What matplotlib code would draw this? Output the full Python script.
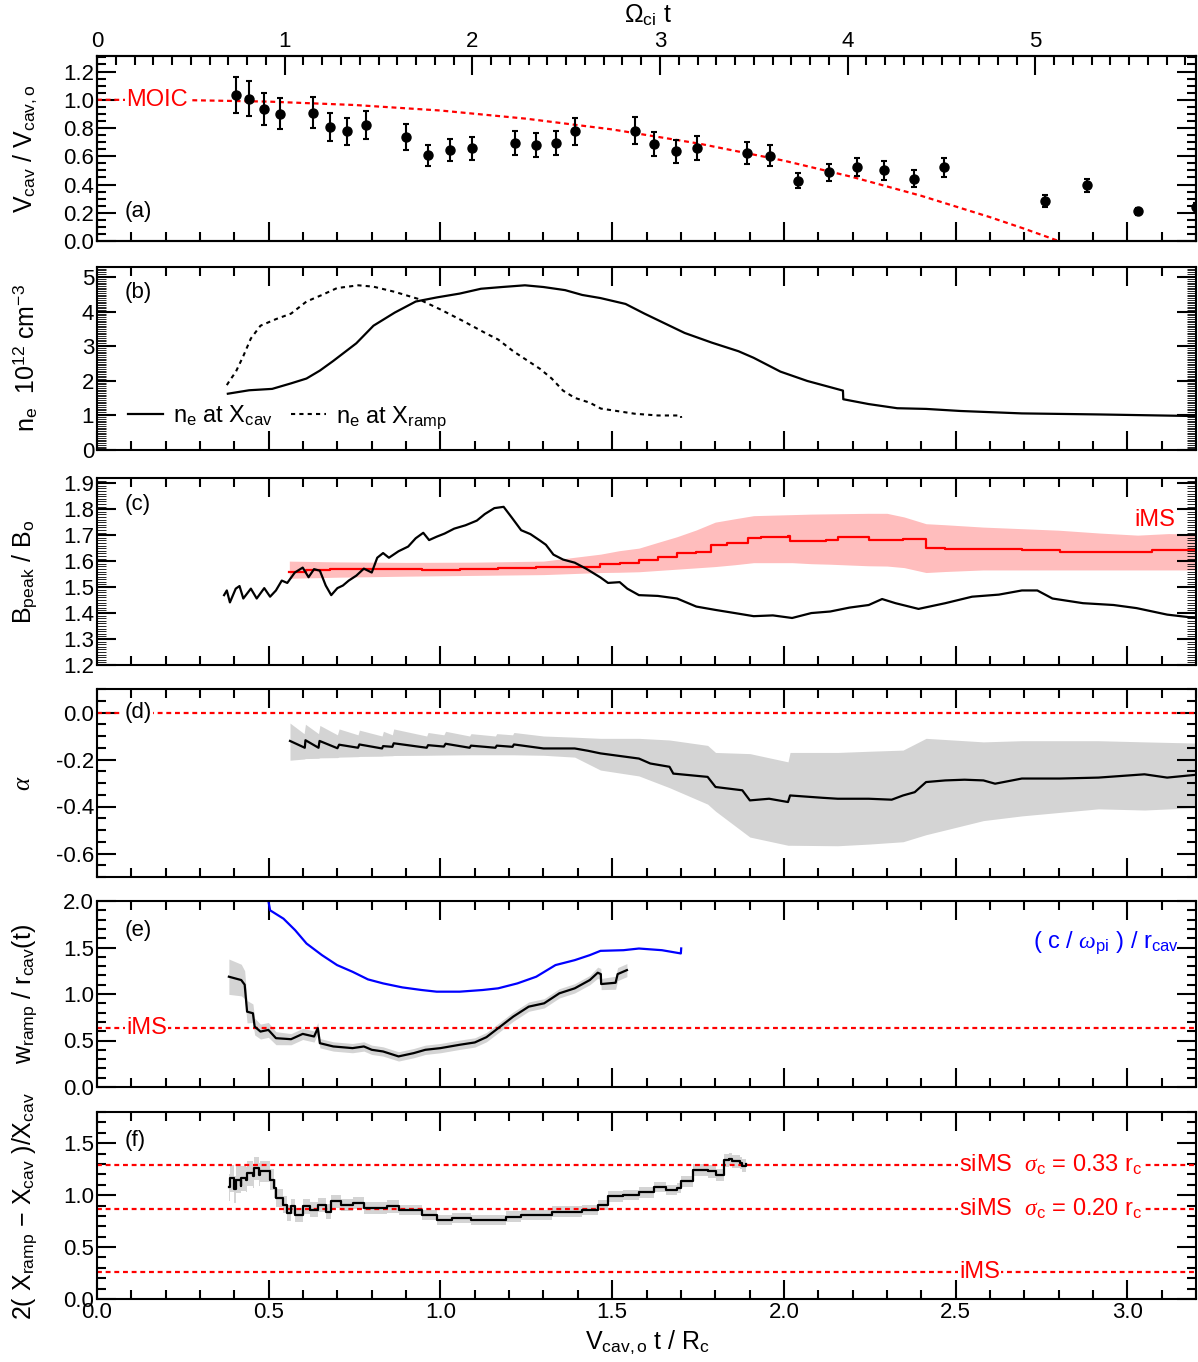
import numpy as np
import matplotlib.pyplot as plt
from matplotlib.ticker import MultipleLocator, FormatStrFormatter

plt.rcParams['font.family'] = ['Liberation Sans', 'DejaVu Sans']
plt.rcParams['mathtext.fontset'] = 'custom'
plt.rcParams['mathtext.rm'] = 'Liberation Sans'
plt.rcParams['mathtext.it'] = 'Liberation Serif:italic'
plt.rcParams['mathtext.bf'] = 'Liberation Sans:bold'
plt.rcParams['axes.unicode_minus'] = False

RED = '#ff0000'
BLUE = '#0000ff'
GREY = '#d4d4d4'
PINK = '#ffbdbd'
OMEGA_PER_X = 1.83  # Omega_ci t per unit of V_cav,o t / R_c

# (a) cavity velocity
t_a = [0.404, 0.444, 0.485, 0.532, 0.630, 0.677, 0.729, 0.782, 0.901, 0.963, 1.027, 1.091,
       1.218, 1.277, 1.337, 1.391, 1.566, 1.622, 1.686, 1.748, 1.893, 1.959, 2.041, 2.131,
       2.212, 2.291, 2.378, 2.465, 2.760, 2.884, 3.032, 3.200]
v_a = [1.033, 1.009, 0.935, 0.902, 0.907, 0.805, 0.777, 0.821, 0.735, 0.607, 0.642, 0.656,
       0.693, 0.681, 0.693, 0.777, 0.781, 0.688, 0.635, 0.660, 0.626, 0.605, 0.428, 0.488,
       0.523, 0.500, 0.442, 0.521, 0.286, 0.393, 0.212, 0.242]
err_a = [0.126, 0.123, 0.115, 0.109, 0.110, 0.098, 0.094, 0.099, 0.090, 0.074, 0.078, 0.083,
         0.085, 0.084, 0.085, 0.094, 0.097, 0.085, 0.081, 0.083, 0.078, 0.076, 0.056, 0.060,
         0.065, 0.065, 0.058, 0.065, 0.042, 0.049, 0.025, 0.025]
t_moic = [0.0, 0.25, 0.5, 0.75, 1.0, 1.25, 1.5, 1.75, 2.0, 2.2, 2.4, 2.6, 2.7, 2.8]
v_moic = [1.0, 0.998, 0.987, 0.963, 0.924, 0.866, 0.79, 0.691, 0.569, 0.453, 0.32, 0.169, 0.087, 0.0]

# (b) densities
t_cav = [0.381, 0.443, 0.510, 0.565, 0.610, 0.649, 0.688, 0.755, 0.805, 0.867, 0.928, 0.990,
         1.056, 1.118, 1.179, 1.246, 1.300, 1.363, 1.413, 1.466, 1.539, 1.594, 1.711, 1.790,
         1.868, 1.912, 1.990, 2.068, 2.172, 2.173, 2.247, 2.330, 2.414, 2.514, 2.693, 2.916, 3.215]
n_cav = [1.63, 1.73, 1.77, 1.93, 2.07, 2.30, 2.58, 3.09, 3.60, 3.98, 4.30, 4.42,
         4.53, 4.67, 4.72, 4.77, 4.72, 4.63, 4.49, 4.40, 4.23, 3.95, 3.39, 3.11,
         2.86, 2.67, 2.27, 2.00, 1.72, 1.47, 1.33, 1.21, 1.19, 1.13, 1.06, 1.03, 0.98]
t_ramp = [0.378, 0.387, 0.404, 0.426, 0.448, 0.476, 0.521, 0.565, 0.610, 0.655, 0.699, 0.761,
          0.805, 0.867, 0.934, 1.000, 1.067, 1.134, 1.168, 1.212, 1.290, 1.324, 1.357, 1.391,
          1.435, 1.467, 1.566, 1.633, 1.700, 1.701]
n_ramp = [1.88, 2.02, 2.26, 2.72, 3.23, 3.60, 3.79, 3.95, 4.30, 4.49, 4.69, 4.77,
          4.73, 4.58, 4.38, 4.07, 3.73, 3.37, 3.20, 2.86, 2.35, 2.07, 1.72, 1.51,
          1.37, 1.20, 1.05, 1.00, 1.00, 0.93]

# (c) peak field
t_bpk = [0.370, 0.378, 0.387, 0.404, 0.415, 0.426, 0.448, 0.465, 0.487, 0.504, 0.521, 0.538,
         0.554, 0.576, 0.599, 0.616, 0.632, 0.649, 0.666, 0.682, 0.700, 0.716, 0.733, 0.755,
         0.777, 0.800, 0.816, 0.833, 0.850, 0.878, 0.906, 0.928, 0.950, 0.967, 0.989, 1.012,
         1.040, 1.073, 1.106, 1.129, 1.157, 1.184, 1.207, 1.235, 1.262, 1.290, 1.307, 1.329,
         1.357, 1.391, 1.424, 1.466, 1.488, 1.522, 1.544, 1.578, 1.633, 1.689, 1.745, 1.801,
         1.857, 1.912, 1.968, 2.024, 2.080, 2.135, 2.191, 2.247, 2.286, 2.325, 2.392, 2.470,
         2.548, 2.626, 2.693, 2.738, 2.782, 2.871, 2.960, 3.027, 3.116, 3.200]
b_pk = [1.469, 1.487, 1.441, 1.494, 1.504, 1.456, 1.494, 1.456, 1.496, 1.463, 1.487, 1.525,
        1.516, 1.556, 1.575, 1.538, 1.569, 1.563, 1.506, 1.469, 1.496, 1.506, 1.525, 1.544,
        1.571, 1.556, 1.613, 1.631, 1.613, 1.638, 1.656, 1.688, 1.709, 1.681, 1.694, 1.706,
        1.725, 1.738, 1.756, 1.781, 1.804, 1.809, 1.769, 1.719, 1.704, 1.679, 1.663, 1.625,
        1.606, 1.594, 1.571, 1.537, 1.516, 1.519, 1.494, 1.469, 1.466, 1.456, 1.425, 1.412,
        1.400, 1.388, 1.391, 1.381, 1.400, 1.406, 1.421, 1.431, 1.454, 1.438, 1.416, 1.438,
        1.463, 1.471, 1.487, 1.487, 1.456, 1.438, 1.431, 1.419, 1.394, 1.381]
t_ims = [0.560, 0.610, 0.677, 0.722, 0.833, 0.945, 1.056, 1.168, 1.279, 1.391, 1.466, 1.522,
         1.578, 1.633, 1.689, 1.745, 1.789, 1.834, 1.895, 1.934, 2.012, 2.018, 2.124, 2.157,
         2.247, 2.347, 2.414, 2.470, 2.581, 2.693, 2.804, 2.949, 3.072, 3.200]
b_ims = [1.560, 1.565, 1.571, 1.568, 1.569, 1.566, 1.571, 1.574, 1.576, 1.579, 1.588, 1.594,
         1.604, 1.616, 1.631, 1.637, 1.662, 1.669, 1.688, 1.694, 1.696, 1.679, 1.681, 1.694,
         1.681, 1.684, 1.650, 1.646, 1.646, 1.641, 1.637, 1.634, 1.641, 1.634]
t_ims_band = [0.56, 0.70, 0.90, 1.10, 1.30, 1.467, 1.52, 1.578, 1.633, 1.689, 1.745, 1.80,
              1.857, 1.912, 1.968, 2.024, 2.08, 2.135, 2.19, 2.247, 2.30, 2.35, 2.414, 2.47,
              2.58, 2.69, 2.80, 2.92, 3.03, 3.12, 3.20]
b_ims_hi = [1.600, 1.597, 1.595, 1.596, 1.600, 1.627, 1.640, 1.650, 1.672, 1.694, 1.720, 1.750,
            1.763, 1.775, 1.777, 1.779, 1.781, 1.782, 1.783, 1.784, 1.784, 1.770, 1.744, 1.740,
            1.731, 1.725, 1.719, 1.708, 1.700, 1.706, 1.704]
b_ims_lo = [1.534, 1.538, 1.542, 1.545, 1.548, 1.556, 1.557, 1.559, 1.564, 1.569, 1.574, 1.579,
            1.586, 1.594, 1.594, 1.594, 1.590, 1.588, 1.585, 1.582, 1.581, 1.575, 1.556, 1.560,
            1.566, 1.566, 1.566, 1.566, 1.566, 1.566, 1.566]

# (d) alpha
t_alpha = [0.562, 0.605, 0.607, 0.645, 0.648, 0.700, 0.705, 0.760, 0.764, 0.830, 0.833, 0.860,
           0.864, 0.960, 0.964, 1.010, 1.015, 1.085, 1.089, 1.160, 1.164, 1.210, 1.214, 1.300,
           1.391, 1.430, 1.466, 1.578, 1.611, 1.667, 1.678, 1.778, 1.801, 1.879, 1.901, 1.957,
           2.012, 2.018, 2.113, 2.157, 2.247, 2.314, 2.347, 2.381, 2.414, 2.470, 2.526, 2.581,
           2.615, 2.693, 2.804, 2.916, 3.050, 3.116, 3.200]
alpha = [-0.121, -0.150, -0.118, -0.150, -0.121, -0.152, -0.137, -0.150, -0.136, -0.153, -0.143, -0.146,
         -0.131, -0.150, -0.139, -0.145, -0.133, -0.150, -0.141, -0.150, -0.141, -0.146, -0.136, -0.153,
         -0.153, -0.163, -0.174, -0.196, -0.217, -0.231, -0.260, -0.274, -0.317, -0.331, -0.374, -0.367,
         -0.381, -0.353, -0.363, -0.367, -0.367, -0.371, -0.353, -0.339, -0.296, -0.289, -0.286, -0.289,
         -0.303, -0.281, -0.281, -0.277, -0.263, -0.277, -0.265]
t_alpha_band = [0.562, 0.603, 0.607, 0.645, 0.649, 0.700, 0.705, 0.760, 0.764, 0.830, 0.834, 0.860,
                0.864, 0.960, 0.964, 1.010, 1.015, 1.085, 1.089, 1.160, 1.164, 1.210, 1.214, 1.300,
                1.391, 1.466, 1.578, 1.667, 1.778, 1.801, 1.901, 2.012, 2.018, 2.157, 2.247, 2.347,
                2.414, 2.470, 2.581, 2.693, 2.804, 2.916, 3.050, 3.200]
alpha_hi = [-0.045, -0.090, -0.050, -0.090, -0.055, -0.095, -0.070, -0.095, -0.075, -0.100, -0.080, -0.095,
            -0.070, -0.100, -0.085, -0.095, -0.080, -0.100, -0.090, -0.100, -0.090, -0.095, -0.085, -0.100,
            -0.105, -0.110, -0.110, -0.117, -0.140, -0.170, -0.175, -0.210, -0.170, -0.170, -0.165, -0.160,
            -0.110, -0.115, -0.125, -0.120, -0.120, -0.120, -0.125, -0.130]
alpha_lo = [-0.203, -0.198, -0.196, -0.195, -0.193, -0.192, -0.190, -0.188, -0.187, -0.186, -0.185, -0.184,
            -0.183, -0.182, -0.182, -0.181, -0.181, -0.180, -0.180, -0.180, -0.180, -0.180, -0.180, -0.182,
            -0.190, -0.245, -0.270, -0.320, -0.390, -0.420, -0.530, -0.565, -0.565, -0.567, -0.560, -0.550,
            -0.520, -0.500, -0.460, -0.440, -0.425, -0.410, -0.415, -0.405]

# (e) ramp width and ion inertial length
t_di = [0.499, 0.504, 0.543, 0.577, 0.610, 0.655, 0.699, 0.744, 0.789, 0.833, 0.889, 0.945,
        0.989, 1.056, 1.123, 1.168, 1.224, 1.279, 1.335, 1.391, 1.435, 1.466, 1.533, 1.578,
        1.645, 1.700, 1.701]
di = [2.00, 1.90, 1.81, 1.686, 1.543, 1.418, 1.311, 1.239, 1.157, 1.114, 1.071, 1.043,
      1.025, 1.025, 1.043, 1.061, 1.114, 1.186, 1.311, 1.364, 1.418, 1.464, 1.471, 1.489,
      1.471, 1.436, 1.490]
t_w = [0.384, 0.420, 0.430, 0.437, 0.454, 0.459, 0.476, 0.499, 0.521, 0.565, 0.599, 0.632,
       0.643, 0.649, 0.688, 0.744, 0.777, 0.800, 0.833, 0.878, 0.922, 0.956, 1.000, 1.056,
       1.100, 1.134, 1.168, 1.212, 1.257, 1.302, 1.346, 1.391, 1.435, 1.458, 1.467, 1.468,
       1.510, 1.516, 1.543]
w_ramp = [1.186, 1.150, 1.10, 0.810, 0.793, 0.650, 0.596, 0.614, 0.525, 0.514, 0.571, 0.543,
          0.632, 0.471, 0.436, 0.418, 0.436, 0.400, 0.382, 0.329, 0.364, 0.400, 0.418, 0.454,
          0.479, 0.536, 0.632, 0.757, 0.864, 0.900, 1.007, 1.061, 1.150, 1.229, 1.214, 1.107,
          1.121, 1.214, 1.257]
w_err = [0.19, 0.17, 0.15, 0.12, 0.10, 0.09, 0.08, 0.08, 0.07, 0.06, 0.06, 0.06,
         0.06, 0.05, 0.05, 0.05, 0.05, 0.05, 0.05, 0.05, 0.05, 0.05, 0.05, 0.05,
         0.05, 0.05, 0.05, 0.05, 0.05, 0.05, 0.05, 0.05, 0.05, 0.06, 0.06, 0.06,
         0.07, 0.07, 0.07]
w_ims = 0.632

# (f) ramp to cavity separation
t_sep = [0.384, 0.387, 0.400, 0.404, 0.418, 0.420, 0.435, 0.437, 0.454, 0.457, 0.471, 0.476,
         0.504, 0.515, 0.521, 0.543, 0.554, 0.565, 0.577, 0.599, 0.621, 0.643, 0.666, 0.682,
         0.710, 0.744, 0.777, 0.811, 0.844, 0.878, 0.922, 0.945, 0.989, 1.034, 1.090, 1.146,
         1.190, 1.235, 1.279, 1.324, 1.369, 1.413, 1.458, 1.488, 1.533, 1.578, 1.622, 1.656,
         1.689, 1.700, 1.728, 1.734, 1.778, 1.801, 1.823, 1.825, 1.840, 1.850, 1.873, 1.879,
         1.890]
sep = [1.077, 1.164, 1.058, 1.148, 1.090, 1.164, 1.148, 1.212, 1.180, 1.260, 1.196, 1.228,
       1.148, 1.067, 0.971, 0.907, 0.826, 0.891, 0.810, 0.891, 0.859, 0.907, 0.842, 0.939,
       0.907, 0.923, 0.875, 0.875, 0.891, 0.859, 0.859, 0.810, 0.762, 0.778, 0.762, 0.762,
       0.794, 0.810, 0.810, 0.842, 0.842, 0.859, 0.907, 0.987, 1.003, 1.026, 1.077, 1.051,
       1.067, 1.132, 1.132, 1.244, 1.228, 1.196, 1.196, 1.334, 1.347, 1.325, 1.309, 1.283,
       1.302]
sep_err = [0.13, 0.13, 0.13, 0.13, 0.12, 0.12, 0.12, 0.12, 0.11, 0.11, 0.11, 0.10,
           0.10, 0.09, 0.09, 0.08, 0.08, 0.07, 0.07, 0.07, 0.07, 0.07, 0.07, 0.06,
           0.06, 0.06, 0.06, 0.06, 0.06, 0.05, 0.05, 0.05, 0.05, 0.05, 0.05, 0.05,
           0.05, 0.05, 0.05, 0.05, 0.05, 0.05, 0.05, 0.05, 0.05, 0.05, 0.05, 0.05,
           0.05, 0.05, 0.05, 0.06, 0.06, 0.06, 0.06, 0.06, 0.06, 0.06, 0.06, 0.06,
           0.06]
sep_levels = [1.293, 0.868, 0.257]
sep_names = [r'siMS  $\sigma_{\mathrm{c}}$ = 0.33 r$_{\mathrm{c}}$',
             r'siMS  $\sigma_{\mathrm{c}}$ = 0.20 r$_{\mathrm{c}}$',
             'iMS']

W, H = 1198, 1362
fig = plt.figure(figsize=(W / 100, H / 100), dpi=100)

# pixel rows of each panel (top, bottom)
rows = [(56, 241), (267, 450), (478, 665), (689, 877), (901, 1087), (1112, 1299)]
x0, x1 = 97, 1196
axes = []
for top, bot in rows:
    axes.append(fig.add_axes([x0 / W, 1 - bot / H, (x1 - x0) / W, (bot - top) / H]))
ax_a, ax_b, ax_c, ax_d, ax_e, ax_f = axes

DOT = (0, (2.2, 1.7))
TXT = 16
LAB = 18
white = dict(facecolor='white', edgecolor='none', pad=1)


def style(ax, ylim, ymaj, ymin, fmt, dense=False):
    ax.set_xlim(0, 3.2)
    ax.set_ylim(*ylim)
    ax.xaxis.set_major_locator(MultipleLocator(0.5))
    ax.xaxis.set_minor_locator(MultipleLocator(0.1))
    ax.yaxis.set_major_locator(MultipleLocator(ymaj))
    ax.yaxis.set_minor_locator(MultipleLocator(ymin))
    ax.yaxis.set_major_formatter(FormatStrFormatter(fmt))
    ax.tick_params(which='both', direction='in', top=True, right=True,
                   width=1.5, labelsize=TXT, pad=2, labelbottom=False)
    ax.tick_params(which='major', length=13.5)
    ax.tick_params(which='minor', length=6.8)
    if dense:
        ax.tick_params(axis='y', which='minor', width=0.6)
    for s in ax.spines.values():
        s.set_linewidth(1.5)


# (a)
style(ax_a, (0, 1.31), 0.2, 0.05, '%.1f')
ax_a.tick_params(top=False)
ax_a.plot(t_moic, v_moic, color=RED, lw=1.6, ls=DOT, clip_on=True)
ax_a.errorbar(t_a, v_a, yerr=err_a, fmt='o', color='black', ms=6.5,
              elinewidth=1.5, capsize=2.5, capthick=1.5, clip_on=True)
ax_a.text(0.085, 1.0, 'MOIC', color=RED, fontsize=17, ha='left', va='center', bbox=white)
ax_a.text(0.025, 0.157, '(a)', transform=ax_a.transAxes, fontsize=TXT, va='center')

ax_top = ax_a.twiny()
ax_top.set_xlim(0, 3.2 * OMEGA_PER_X)
ax_top.xaxis.set_major_locator(MultipleLocator(1))
ax_top.xaxis.set_minor_locator(MultipleLocator(0.1))
ax_top.tick_params(which='both', direction='in', width=1.5, labelsize=TXT, pad=3)
ax_top.tick_params(which='major', length=13.5)
ax_top.tick_params(which='minor', length=6.8)
for s in ax_top.spines.values():
    s.set_linewidth(1.5)

# (b)
style(ax_b, (0, 5.3), 1, 0.05, '%d', dense=True)
ax_b.plot(t_cav, n_cav, color='black', lw=1.6, label=r'n$_{\mathrm{e}}$ at X$_{\mathrm{cav}}$')
ax_b.plot(t_ramp, n_ramp, color='black', lw=1.5, ls=(0, (2, 2)),
          label=r'n$_{\mathrm{e}}$ at X$_{\mathrm{ramp}}$')
ax_b.legend(loc='center left', bbox_to_anchor=(0.028, 0.18), ncol=2, frameon=False,
            fontsize=17, handlelength=1.5, handletextpad=0.4, columnspacing=0.8,
            borderpad=0, borderaxespad=0)
ax_b.text(0.025, 0.858, '(b)', transform=ax_b.transAxes, fontsize=TXT, va='center')

# (c)
style(ax_c, (1.2, 1.92), 0.1, 0.01, '%.1f', dense=True)
ax_c.fill_between(t_ims_band, b_ims_lo, b_ims_hi, color=PINK, lw=0)
ax_c.plot(t_ims, b_ims, color=RED, lw=1.6, drawstyle='steps-post')
ax_c.plot(t_bpk, b_pk, color='black', lw=1.6)
ax_c.text(3.08, 1.76, 'iMS', color=RED, fontsize=17, ha='center', va='center')
ax_c.text(0.025, 0.856, '(c)', transform=ax_c.transAxes, fontsize=TXT, va='center')

# (d)
style(ax_d, (-0.7, 0.1), 0.2, 0.05, '%.1f')
ax_d.axhline(0.0, color=RED, lw=1.6, ls=DOT)
ax_d.fill_between(t_alpha_band, alpha_lo, alpha_hi, color=GREY, lw=0)
ax_d.plot(t_alpha, alpha, color='black', lw=1.6)
ax_d.text(0.08, 0.0, '(d)', fontsize=TXT, ha='left', va='center', bbox=white)

# (e)
style(ax_e, (0, 2.0), 0.5, 0.1, '%.1f')
ax_e.axhline(w_ims, color=RED, lw=1.6, ls=DOT)
w_lo = [w - e for w, e in zip(w_ramp, w_err)]
w_hi = [w + e for w, e in zip(w_ramp, w_err)]
ax_e.fill_between(t_w, w_lo, w_hi, color=GREY, lw=0)
ax_e.plot(t_w, w_ramp, color='black', lw=1.6)
ax_e.plot(t_di, di, color=BLUE, lw=1.6)
ax_e.text(0.085, w_ims, 'iMS', color=RED, fontsize=17, ha='left', va='center', bbox=white)
ax_e.text(3.15, 1.55, r'( c / $\omega_{\mathrm{pi}}$ ) / r$_{\mathrm{cav}}$', color=BLUE,
          fontsize=17, ha='right', va='center')
ax_e.text(0.025, 0.844, '(e)', transform=ax_e.transAxes, fontsize=TXT, va='center')

# (f)
style(ax_f, (0, 1.8), 0.5, 0.1, '%.1f')
ax_f.tick_params(labelbottom=True)
ax_f.xaxis.set_major_formatter(FormatStrFormatter('%.1f'))
for lev, name in zip(sep_levels, sep_names):
    ax_f.axhline(lev, color=RED, lw=1.6, ls=DOT)
    ax_f.text(2.51, lev, name, color=RED, fontsize=17, ha='left', va='center', bbox=white)
s_lo = [s - e for s, e in zip(sep, sep_err)]
s_hi = [s + e for s, e in zip(sep, sep_err)]
ax_f.fill_between(t_sep, s_lo, s_hi, color=GREY, lw=0, step='post')
ax_f.plot(t_sep, sep, color='black', lw=1.6, drawstyle='steps-post')
ax_f.text(0.025, 0.845, '(f)', transform=ax_f.transAxes, fontsize=TXT, va='center')

# axis titles
ylabels = [r'V$_{\mathrm{cav}}$ / V$_{\mathrm{cav,o}}$',
           r'n$_{\mathrm{e}}$  10$^{\mathrm{12}}$ cm$^{\mathrm{-3}}$',
           r'B$_{\mathrm{peak}}$ / B$_{\mathrm{o}}$',
           r'$\alpha$',
           r'w$_{\mathrm{ramp}}$ / r$_{\mathrm{cav}}$(t)',
           r'2( X$_{\mathrm{ramp}}$ $-$ X$_{\mathrm{cav}}$ )/X$_{\mathrm{cav}}$']
for (top, bot), lab in zip(rows, ylabels):
    fig.text(11 / W, 1 - (top + bot) / 2 / H, lab, rotation=90, fontsize=LAB,
             ha='left', va='center')

fig.text(648 / W, 1 - 22 / H, r'$\Omega_{\mathrm{ci}}$ t', fontsize=LAB, ha='center', va='baseline')
fig.text(648 / W, 1 - 1348 / H, r'V$_{\mathrm{cav,o}}$ t / R$_{\mathrm{c}}$', fontsize=LAB,
         ha='center', va='baseline')

fig.savefig('out.png', dpi=100)
